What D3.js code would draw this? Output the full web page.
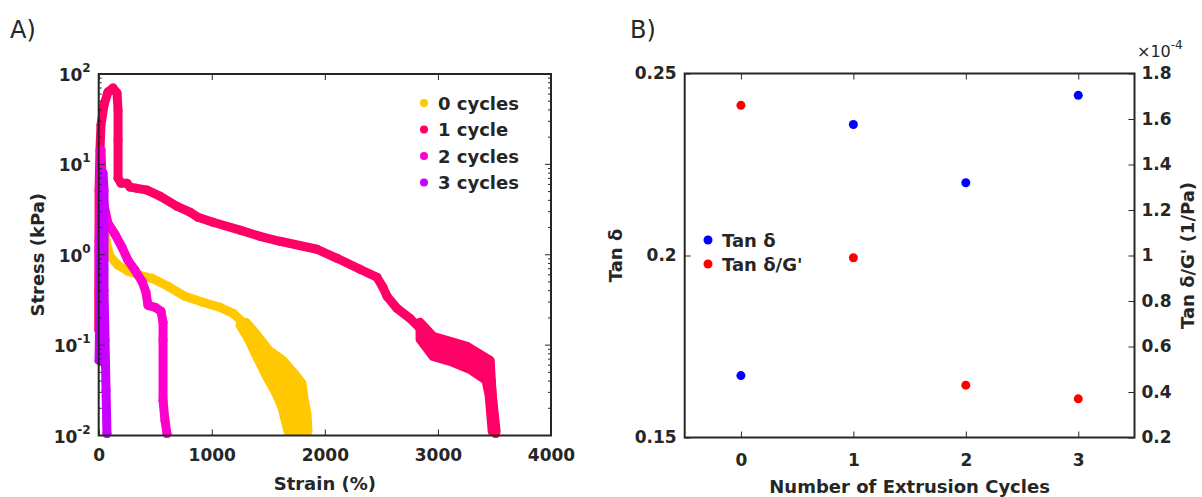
<!DOCTYPE html>
<html><head><meta charset="utf-8">
<script src="https://cdn.jsdelivr.net/npm/d3@7"></script>
<style>
html,body{margin:0;padding:0;background:#fff;}
svg{display:block;}
text{font-family:"DejaVu Sans",sans-serif;fill:#262626;}
</style></head>
<body>
<svg id="c" width="1202" height="497"></svg>
<script>
// ---------- Panel A data (strain %, stress kPa) ----------
const seriesNames = ["0 cycles", "1 cycle", "2 cycles", "3 cycles"];
const seriesColors = ["#FFC800", "#FF0066", "#FF00CC", "#C800FF"];

const cycles0 = [[0,0.157],[0,0.313],[3,0.593],[29,0.987],[56,1.77],[73,1.27],[100,0.962],[171,0.765],[259,0.657],[365,0.593],[471,0.549],[613,0.448],[763,0.347],[922,0.298],[1073,0.262],[1188,0.225],[1276,0.179]];
const cycles0Band = [[1250,0.166],[1329,0.113],[1400,0.0731],[1488,0.0440],[1568,0.0292],[1621,0.0204],[1656,0.0136],[1674,0.0111],[1851,0.0111],[1842,0.0175],[1816,0.0257],[1798,0.0377],[1745,0.0462],[1630,0.0678],[1506,0.0875],[1382,0.138],[1303,0.179]];

const cycles1 = [[3,0.146],[3,0.404],[3,1.45],[3,5.19],[11,14.4],[20,27.2],[47,45.4],[82,63.2],[126,70.0],[162,61.5],[171,39.9],[171,18.6],[171,7.04],[197,6.20],[250,6.20],[277,5.60],[330,5.46],[427,5.19],[542,4.45],[692,3.44],[807,2.96],[878,2.60],[1010,2.29],[1250,1.87],[1426,1.60],[1603,1.41],[1931,1.15],[2108,0.914],[2311,0.690],[2461,0.563],[2514,0.436],[2550,0.347],[2638,0.255],[2753,0.198],[2842,0.153],[2904,0.125],[2957,0.10],[3108,0.088],[3258,0.08],[3373,0.06],[3470,0.04],[3490,0.02],[3510,0.0105]];
const cycles1Band = [[2842,0.179],[2957,0.125],[3108,0.110],[3258,0.0969],[3373,0.0791],[3462,0.0678],[3480,0.0277],[3515,0.0111],[3480,0.0111],[3453,0.0277],[3426,0.0407],[3285,0.0538],[3108,0.0661],[2957,0.0750],[2842,0.116]];

const cycles2 = [[3,0.146],[3,1.12],[11,5.19],[20,14.4],[29,7.6],[47,3.53],[82,2.23],[144,1.69],[206,1.21],[259,0.869],[321,0.673],[383,0.508],[418,0.384],[436,0.275],[499,0.262],[551,0.237],[569,0.179],[569,0.113],[569,0.0244],[586,0.0147],[604,0.0105]];

const cycles3 = [[3,0.0678],[11,0.313],[20,1.45],[29,5.19],[38,8.0],[47,5.19],[47,1.45],[47,0.404],[56,0.113],[65,0.0315],[73,0.0105]];

const strainTicks = [0, 1000, 2000, 3000, 4000];
const stressTickExponents = [-2, -1, 0, 1, 2];

// ---------- Panel B data ----------
const extrusionCycles = [0, 1, 2, 3];
const tanDelta = [0.167, 0.236, 0.220, 0.244];
const tanDeltaOverG = [1.66, 0.99, 0.43, 0.37]; // x 1e-4 1/Pa
const tanDeltaTicks = [0.15, 0.2, 0.25];
const tanDeltaTickLabels = ["0.15", "0.2", "0.25"];
const rightTicks = [0.2, 0.4, 0.6, 0.8, 1.0, 1.2, 1.4, 1.6, 1.8];
const rightTickLabels = ["0.2","0.4","0.6","0.8","1","1.2","1.4","1.6","1.8"];
const legendB = ["Tan δ", "Tan δ/G'"];
const colorsB = ["#0000FF", "#FF0000"];

const svg = d3.select("#c");
const axisColor = "#262626";
const tickFont = 17, titleFont = 18;

function styleAxis(g) {
  g.select(".domain").remove();
  g.selectAll("text").attr("font-size", tickFont).attr("fill", axisColor)
    .attr("font-family", "DejaVu Sans").attr("font-weight", "bold");
  g.selectAll("line").attr("stroke", axisColor);
}

// ================= Panel A =================
const A = {l: 98.7, r: 551, t: 74, b: 435.5};
const xA = d3.scaleLinear().domain([0, 4000]).range([A.l, A.r]);
const yA = d3.scaleLog().domain([0.01, 100]).range([A.b, A.t]);
const gA = svg.append("g");

const line = d3.line().x(d => xA(d[0])).y(d => yA(d[1]));
const datasets = [[cycles0, cycles0Band], [cycles1, cycles1Band], [cycles2, null], [cycles3, null]];
datasets.forEach(([pts, band], i) => {
  const c = seriesColors[i];
  if (band) {
    gA.append("path").attr("d", line(band) + "Z").attr("fill", c).attr("stroke", c)
      .attr("stroke-width", 9).attr("stroke-linejoin", "round");
  }
  gA.append("path").attr("d", line(pts)).attr("fill", "none").attr("stroke", c)
    .attr("stroke-width", 9).attr("stroke-linejoin", "round").attr("stroke-linecap", "round");
  gA.selectAll(null).data(pts).enter().append("circle")
    .attr("cx", d => xA(d[0])).attr("cy", d => yA(d[1])).attr("r", 4.5).attr("fill", c);
});

// axes A
const axA = gA.append("g");
axA.append("g").attr("transform", `translate(0,${A.b})`)
  .call(d3.axisBottom(xA).tickValues(strainTicks).tickSize(-6).tickPadding(13).tickFormat(d3.format("d")))
  .call(styleAxis);
axA.append("g").attr("transform", `translate(0,${A.t})`)
  .call(d3.axisTop(xA).tickValues(strainTicks).tickSize(-6).tickFormat(""))
  .call(styleAxis);
const majorY = stressTickExponents.map(e => Math.pow(10, e));
const minorY = [];
stressTickExponents.slice(0, -1).forEach(e => { for (let k = 2; k < 10; k++) minorY.push(k * Math.pow(10, e)); });
[[A.l, 1], [A.r, -1]].forEach(([x, dir]) => {
  axA.selectAll(null).data(majorY).enter().append("line")
    .attr("x1", x).attr("x2", x + dir * 6).attr("y1", d => yA(d)).attr("y2", d => yA(d)).attr("stroke", axisColor);
  axA.selectAll(null).data(minorY).enter().append("line")
    .attr("x1", x).attr("x2", x + dir * 3).attr("y1", d => yA(d)).attr("y2", d => yA(d)).attr("stroke", axisColor);
});
stressTickExponents.forEach(e => {
  const t = axA.append("text").attr("x", A.l - 8).attr("y", yA(Math.pow(10, e)) + 7)
    .attr("text-anchor", "end").attr("font-size", tickFont).attr("font-weight", "bold");
  t.append("tspan").text("10");
  t.append("tspan").attr("dy", -9).attr("font-size", 12).text(String(e));
});
axA.append("rect").attr("x", A.l).attr("y", A.t).attr("width", A.r - A.l).attr("height", A.b - A.t)
  .attr("fill", "none").attr("stroke", axisColor).attr("stroke-width", 2);

gA.append("text").attr("x", (A.l + A.r) / 2).attr("y", 490).attr("text-anchor", "middle")
  .attr("font-size", titleFont).attr("font-weight", "bold").text("Strain (%)");
gA.append("text").attr("transform", `translate(44,${(A.t + A.b) / 2}) rotate(-90)`).attr("text-anchor", "middle")
  .attr("font-size", titleFont).attr("font-weight", "bold").text("Stress (kPa)");

// legend A
seriesNames.forEach((n, i) => {
  const y = 103 + i * 26.5;
  gA.append("circle").attr("cx", 424).attr("cy", y).attr("r", 4).attr("fill", seriesColors[i]);
  gA.append("text").attr("x", 438).attr("y", y + 6.5).attr("font-size", titleFont).attr("font-weight", "bold").text(n);
});
svg.append("text").attr("x", 10).attr("y", 38).attr("font-size", 24).attr("font-family", "Open Sans").text("A)");

// ================= Panel B =================
const B = {l: 684.7, r: 1134.5, t: 73.5, b: 437.5};
const xB = d3.scaleLinear().domain([-0.5, 3.5]).range([B.l, B.r]);
const yL = d3.scaleLinear().domain([0.15, 0.25]).range([B.b, B.t]);
const yR = d3.scaleLinear().domain([0.2, 1.8]).range([B.b, B.t]);
const gB = svg.append("g");

gB.append("g").attr("transform", `translate(0,${B.b})`)
  .call(d3.axisBottom(xB).tickValues(extrusionCycles).tickSize(-6).tickPadding(16).tickFormat(d3.format("d")))
  .call(styleAxis);
gB.append("g").attr("transform", `translate(0,${B.t})`)
  .call(d3.axisTop(xB).tickValues(extrusionCycles).tickSize(-6).tickFormat(""))
  .call(styleAxis);
gB.append("g").attr("transform", `translate(${B.l},0)`)
  .call(d3.axisLeft(yL).tickValues(tanDeltaTicks).tickSize(-6).tickPadding(8).tickFormat((d, i) => tanDeltaTickLabels[i]))
  .call(styleAxis);
gB.append("g").attr("transform", `translate(${B.r},0)`)
  .call(d3.axisRight(yR).tickValues(rightTicks).tickSize(-6).tickPadding(7).tickFormat((d, i) => rightTickLabels[i]))
  .call(styleAxis);
gB.append("rect").attr("x", B.l).attr("y", B.t).attr("width", B.r - B.l).attr("height", B.b - B.t)
  .attr("fill", "none").attr("stroke", axisColor).attr("stroke-width", 2);

const mult = gB.append("text").attr("x", 1137).attr("y", 57).attr("font-size", 16);
mult.append("tspan").text("×10");
mult.append("tspan").attr("dy", -8).attr("font-size", 12).text("-4");

gB.selectAll(null).data(extrusionCycles).enter().append("circle")
  .attr("cx", d => xB(d)).attr("cy", (d, i) => yL(tanDelta[i])).attr("r", 4.5).attr("fill", colorsB[0]);
gB.selectAll(null).data(extrusionCycles).enter().append("circle")
  .attr("cx", d => xB(d)).attr("cy", (d, i) => yR(tanDeltaOverG[i])).attr("r", 4.5).attr("fill", colorsB[1]);

legendB.forEach((n, i) => {
  const y = 240 + i * 24;
  gB.append("circle").attr("cx", 708).attr("cy", y).attr("r", 4.5).attr("fill", colorsB[i]);
  gB.append("text").attr("x", 722).attr("y", y + 6.5).attr("font-size", titleFont).attr("font-weight", "bold").text(n);
});

gB.append("text").attr("x", (B.l + B.r) / 2).attr("y", 493).attr("text-anchor", "middle")
  .attr("font-size", titleFont).attr("font-weight", "bold").text("Number of Extrusion Cycles");
gB.append("text").attr("transform", `translate(622,${(B.t + B.b) / 2}) rotate(-90)`).attr("text-anchor", "middle")
  .attr("font-size", titleFont).attr("font-weight", "bold").text("Tan δ");
gB.append("text").attr("transform", `translate(1194,${(B.t + B.b) / 2}) rotate(-90)`).attr("text-anchor", "middle")
  .attr("font-size", titleFont).attr("font-weight", "bold").text("Tan δ/G' (1/Pa)");
svg.append("text").attr("x", 630).attr("y", 38).attr("font-size", 24).attr("font-family", "Open Sans").text("B)");
</script>
</body></html>
